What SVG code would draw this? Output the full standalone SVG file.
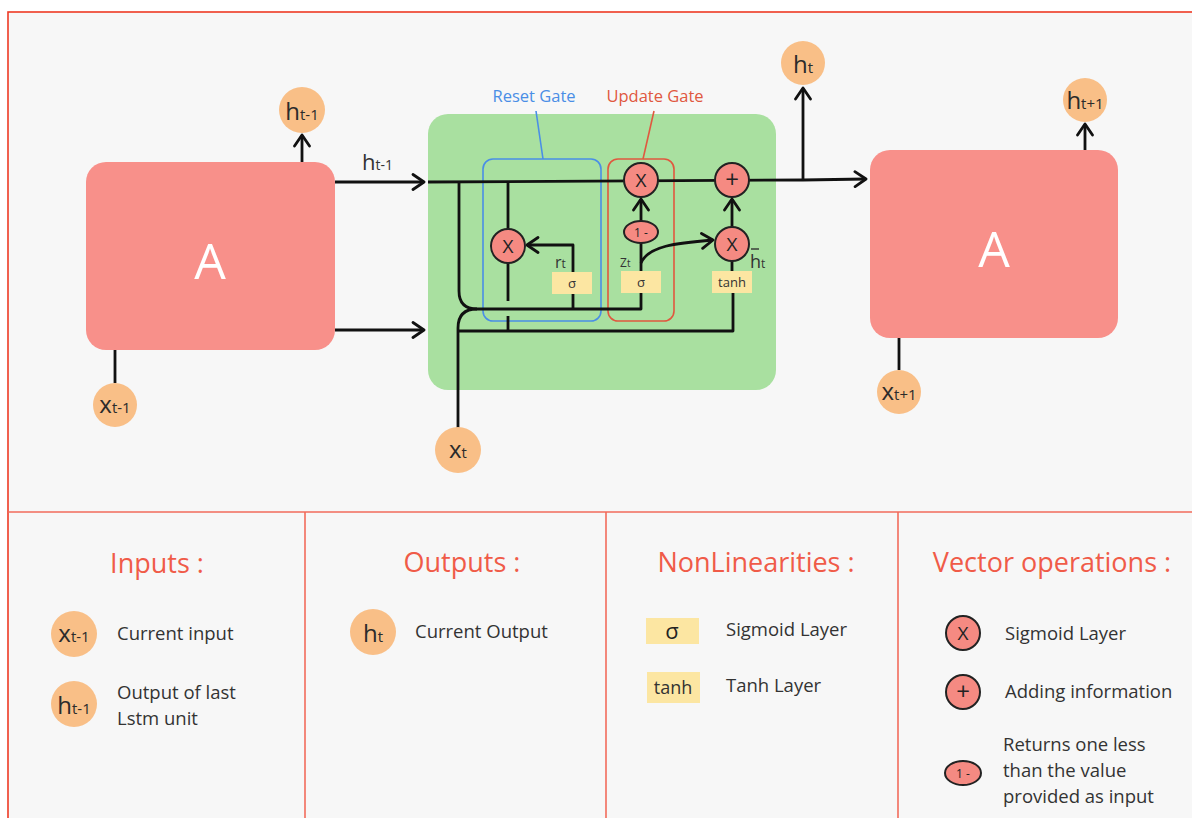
<svg xmlns="http://www.w3.org/2000/svg" width="1192" height="818" viewBox="0 0 1192 818">
  <defs>
    <marker id="arrow" viewBox="-13 -9 15 18" markerWidth="15" markerHeight="18" refX="0" refY="0" orient="auto" markerUnits="userSpaceOnUse">
      <path d="M-11,-7.5 L0,0 L-11,7.5" fill="none" stroke="#111" stroke-width="2.8" stroke-linecap="round" stroke-linejoin="round"/>
    </marker>
    <style>
      text { font-family: "Open Sans", "Liberation Sans", sans-serif; }
      .wire { fill: none; stroke: #111; stroke-width: 2.8; stroke-linejoin: round; }
      .io { fill: #f9bf87; }
      .io-t { font-size: 24px; fill: #2b2b2b; text-anchor: middle; }
      .sub { font-size: 15px; }
      .op { fill: #f58a82; stroke: #222; stroke-width: 2; }
      .op-t { font-size: 19px; fill: #222; text-anchor: middle; }
      .plus { font-size: 24px; }
      .layer { fill: #fce6a2; }
      .layer-t { font-size: 13px; fill: #333; text-anchor: middle; }
      .cell { fill: #f8908a; }
      .cell-t { font-size: 50px; fill: #ffffff; text-anchor: middle; }
      .sect { fill: #f05b48; font-size: 27px; text-anchor: middle; }
      .desc { fill: #333; font-size: 18.5px; }
      .divider { stroke: #f26b5b; stroke-width: 1.6; }
    </style>
  </defs>

  <rect width="1192" height="818" fill="#ffffff"/>
  <!-- outer frame -->
  <g id="frame">
    <rect x="8" y="12" width="1200" height="820" fill="#f7f7f7" stroke="#ee3a25" stroke-width="1.6"/>
    <line class="divider" x1="8" y1="512" x2="1192" y2="512"/>
    <line class="divider" x1="305" y1="512" x2="305" y2="818"/>
    <line class="divider" x1="606" y1="512" x2="606" y2="818"/>
    <line class="divider" x1="898" y1="512" x2="898" y2="818"/>
  </g>

  <!-- unrolled cells -->
  <g id="cell-prev">
    <rect class="cell" x="86" y="162" width="249" height="188" rx="20"/>
    <text class="cell-t" x="210" y="279">A</text>
  </g>
  <g id="cell-next">
    <rect class="cell" x="870" y="150" width="248" height="188" rx="20"/>
    <text class="cell-t" x="994" y="267">A</text>
  </g>
  <g id="cell-gru">
    <rect x="428" y="114" width="348" height="276" rx="20" fill="#a9e0a0"/>
  </g>

  <!-- gate outlines -->
  <g id="reset-gate">
    <rect x="483" y="159" width="118" height="162" rx="10" fill="none" stroke="#4a8ee6" stroke-width="1.6"/>
    <line x1="536" y1="111" x2="543" y2="159" stroke="#4a8ee6" stroke-width="1.6"/>
    <text x="534" y="102" font-size="16.5" fill="#4a8ee6" text-anchor="middle">Reset Gate</text>
  </g>
  <g id="update-gate">
    <rect x="608" y="159" width="66" height="162" rx="10" fill="none" stroke="#e0583f" stroke-width="1.6"/>
    <line x1="654" y1="111" x2="643" y2="159" stroke="#e0583f" stroke-width="1.6"/>
    <text x="655" y="102" font-size="16.5" fill="#e0583f" text-anchor="middle">Update Gate</text>
  </g>

  <!-- connectors -->
  <g id="connectors">
    <line class="wire" x1="115" y1="350" x2="115" y2="383"/>
    <line class="wire" x1="302" y1="162" x2="302" y2="135" marker-end="url(#arrow)"/>
    <line class="wire" x1="335" y1="182" x2="424" y2="182" marker-end="url(#arrow)"/>
    <line class="wire" x1="335" y1="330" x2="424" y2="330" marker-end="url(#arrow)"/>
    <!-- hidden state highway -->
    <polyline class="wire" points="428,182 803,180 866,179" marker-end="url(#arrow)"/>
    <line class="wire" x1="803" y1="180" x2="803" y2="88" marker-end="url(#arrow)"/>
    <line class="wire" x1="1085" y1="150" x2="1085" y2="124" marker-end="url(#arrow)"/>
    <line class="wire" x1="899" y1="338" x2="899" y2="370"/>
    <!-- h(t-1) and x(t) merged into the gate input -->
    <path class="wire" d="M459,182 V291 Q459,309 477,309 H641 V293"/>
    <path class="wire" d="M458,428 V328 Q458,309 477,309"/>
    <path class="wire" d="M458,331 H733 V293"/>
    <line class="wire" x1="573" y1="309" x2="573" y2="294"/>
    <!-- reset gate -->
    <path class="wire" d="M573,272 V245 H527" marker-end="url(#arrow)"/>
    <line class="wire" x1="508" y1="182" x2="508" y2="229"/>
    <line class="wire" x1="508" y1="263" x2="508" y2="301"/>
    <line class="wire" x1="508" y1="316" x2="508" y2="331"/>
    <!-- update gate -->
    <line class="wire" x1="641" y1="271" x2="641" y2="243"/>
    <line class="wire" x1="641" y1="221" x2="641" y2="199" marker-end="url(#arrow)"/>
    <path class="wire" d="M641,263 C648,246 676,243 713,240" marker-end="url(#arrow)"/>
    <line class="wire" x1="732" y1="271" x2="732" y2="261"/>
    <line class="wire" x1="732" y1="227" x2="732" y2="199" marker-end="url(#arrow)"/>
  </g>

  <!-- inputs and outputs -->
  <g id="h-prev-out">
    <circle class="io" cx="302" cy="110" r="23"/>
    <text class="io-t" x="302" y="120">h<tspan class="sub">t-1</tspan></text>
  </g>
  <g id="x-prev">
    <circle class="io" cx="115" cy="405" r="22"/>
    <text class="io-t" x="115" y="413">x<tspan class="sub">t-1</tspan></text>
  </g>
  <g id="x-t">
    <circle class="io" cx="458" cy="450" r="23"/>
    <text class="io-t" x="458" y="458">x<tspan class="sub">t</tspan></text>
  </g>
  <g id="h-t">
    <circle class="io" cx="803" cy="63" r="22"/>
    <text class="io-t" x="803" y="73">h<tspan class="sub">t</tspan></text>
  </g>
  <g id="h-next">
    <circle class="io" cx="1085" cy="100" r="22"/>
    <text class="io-t" x="1085" y="109">h<tspan class="sub">t+1</tspan></text>
  </g>
  <g id="x-next">
    <circle class="io" cx="899" cy="392" r="22"/>
    <text class="io-t" x="899" y="400">x<tspan class="sub">t+1</tspan></text>
  </g>
  <g id="h-prev-label">
    <text x="362" y="170" font-size="22" fill="#333">h<tspan font-size="14">t-1</tspan></text>
  </g>

  <!-- operations inside the cell -->
  <g id="reset-mul">
    <circle class="op" cx="508" cy="246" r="17"/>
    <text class="op-t" x="508" y="253">X</text>
  </g>
  <g id="reset-sigma">
    <rect class="layer" x="552" y="272" width="40" height="22"/>
    <text class="layer-t" x="572" y="288">σ</text>
    <text x="555" y="268" font-size="16" fill="#333">r<tspan font-size="12">t</tspan></text>
  </g>
  <g id="update-mul">
    <circle class="op" cx="641" cy="180" r="17"/>
    <text class="op-t" x="641" y="187">X</text>
  </g>
  <g id="one-minus">
    <ellipse class="op" cx="641" cy="232" rx="17" ry="11"/>
    <text x="641" y="236.5" font-size="12" fill="#222" text-anchor="middle">1 -</text>
  </g>
  <g id="update-sigma">
    <rect class="layer" x="621" y="271" width="40" height="22"/>
    <text class="layer-t" x="641" y="287">σ</text>
    <text x="620" y="267" font-size="12" fill="#333">Z<tspan font-size="10">t</tspan></text>
  </g>
  <g id="add">
    <circle class="op" cx="732" cy="180" r="17"/>
    <text class="op-t plus" x="732" y="188">+</text>
  </g>
  <g id="candidate-mul">
    <circle class="op" cx="732" cy="244" r="17"/>
    <text class="op-t" x="732" y="251">X</text>
  </g>
  <g id="candidate-tanh">
    <rect class="layer" x="712" y="271" width="40" height="22"/>
    <text class="layer-t" x="732" y="287">tanh</text>
    <text x="750" y="268" font-size="18" fill="#333">h<tspan font-size="12">t</tspan></text>
    <line x1="751" y1="249" x2="759" y2="249" stroke="#333" stroke-width="1.4"/>
  </g>

  <!-- legend -->
  <g id="legend-inputs">
    <text class="sect" x="157" y="573">Inputs :</text>
    <circle class="io" cx="74" cy="634" r="23"/>
    <text class="io-t" x="74" y="642">x<tspan class="sub">t-1</tspan></text>
    <text class="desc" x="117" y="640">Current input</text>
    <circle class="io" cx="74" cy="704" r="23"/>
    <text class="io-t" x="74" y="714">h<tspan class="sub">t-1</tspan></text>
    <text class="desc" x="117" y="699">Output of last</text>
    <text class="desc" x="117" y="725">Lstm unit</text>
  </g>
  <g id="legend-outputs">
    <text class="sect" x="462" y="572">Outputs :</text>
    <circle class="io" cx="373" cy="632" r="23"/>
    <text class="io-t" x="373" y="642">h<tspan class="sub">t</tspan></text>
    <text class="desc" x="415" y="638">Current Output</text>
  </g>
  <g id="legend-nonlinear">
    <text class="sect" x="756" y="572">NonLinearities :</text>
    <rect class="layer" x="646" y="618" width="53" height="26"/>
    <text x="672" y="639" font-size="22" fill="#222" text-anchor="middle">σ</text>
    <text class="desc" x="726" y="636">Sigmoid Layer</text>
    <rect class="layer" x="647" y="672" width="53" height="31"/>
    <text x="673" y="694" font-size="18" fill="#333" text-anchor="middle">tanh</text>
    <text class="desc" x="726" y="692">Tanh Layer</text>
  </g>
  <g id="legend-vector">
    <text class="sect" x="1052" y="572">Vector operations :</text>
    <circle class="op" cx="963" cy="633" r="17"/>
    <text class="op-t" x="963" y="640">X</text>
    <text class="desc" x="1005" y="640">Sigmoid Layer</text>
    <circle class="op" cx="963" cy="692" r="17"/>
    <text class="op-t plus" x="963" y="700">+</text>
    <text class="desc" x="1005" y="698">Adding information</text>
    <ellipse class="op" cx="963" cy="773" rx="18" ry="12"/>
    <text x="963" y="777.5" font-size="12" fill="#222" text-anchor="middle">1 -</text>
    <text class="desc" x="1003" y="751">Returns one less</text>
    <text class="desc" x="1003" y="777">than the value</text>
    <text class="desc" x="1003" y="803">provided as input</text>
  </g>
</svg>
